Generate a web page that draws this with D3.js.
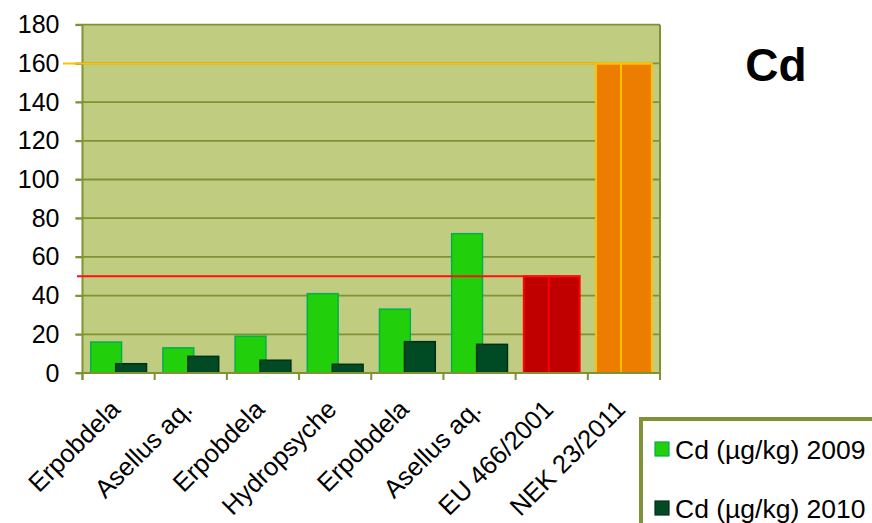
<!DOCTYPE html>
<html>
<head>
<meta charset="utf-8">
<script src="https://cdn.jsdelivr.net/npm/d3@7"></script>
<style>
  html, body { margin: 0; padding: 0; background: #fff; }
  svg { display: block; font-family: "Liberation Sans", Arial, sans-serif; }
</style>
</head>
<body>
<svg id="chart" width="872" height="523"></svg>
<script>
// Cadmium in macroinvertebrates (µg/kg) with two legal limit values
const categories = ["Erpobdela", "Asellus aq.", "Erpobdela", "Hydropsyche", "Erpobdela", "Asellus aq.", "EU 466/2001", "NEK 23/2011"];
const values2009 = [16, 13, 19, 41, 33, 72, 50, 160];
const values2010 = [4.8, 8.6, 6.6, 4.5, 16.2, 14.8, 50, 160];
const seriesNames = ["Cd (µg/kg) 2009", "Cd (µg/kg) 2010"];
const yTicks = [0, 20, 40, 60, 80, 100, 120, 140, 160, 180];
const limitEU = 50;
const limitNEK = 160;
const chartTitle = "Cd";

const svg = d3.select("#chart");
const plot = { left: 82.5, right: 660, top: 24.7, bottom: 373 };

const x = d3.scaleBand().domain(d3.range(categories.length))
  .range([plot.left, plot.right]).padding(0);
const y = d3.scaleLinear().domain([0, 180]).range([plot.bottom, plot.top]);

const olive = "#7f9236";
const bw = x.bandwidth();
const barW = bw * 0.427;
const off1 = bw * 0.114;
const off2 = bw * 0.46;

// colour scheme per bar: measured samples in green, limit values in red / orange
function fillFor(i, s) {
  if (categories[i] === "EU 466/2001") return "#c00000";
  if (categories[i] === "NEK 23/2011") return "#ed7d00";
  return s === 0 ? "#21cf0a" : "#004b23";
}
function strokeFor(i, s) {
  if (categories[i] === "EU 466/2001") return "#ff0000";
  if (categories[i] === "NEK 23/2011") return "#ffc000";
  return s === 0 ? "#00b050" : "#00301a";
}

// plot background
svg.append("rect")
  .attr("x", plot.left).attr("y", plot.top)
  .attr("width", plot.right - plot.left).attr("height", plot.bottom - plot.top)
  .attr("fill", "#c0cc7f");

// horizontal gridlines with outside tick marks
svg.append("g").selectAll("line").data(yTicks.filter(d => d > 0)).join("line")
  .attr("x1", plot.left - 7).attr("x2", plot.right)
  .attr("y1", d => y(d)).attr("y2", d => y(d))
  .attr("stroke", olive).attr("stroke-width", 1.8);

// y axis labels
const yAxis = d3.axisLeft(y).tickValues(yTicks).tickSize(7).tickPadding(16);
const gy = svg.append("g").attr("transform", `translate(${plot.left},0)`).call(yAxis);
gy.select(".domain").remove();
gy.selectAll(".tick line").attr("stroke", olive).attr("stroke-width", 1.8);
gy.selectAll("text").attr("font-size", 25).attr("fill", "#000")
  .attr("font-family", "Liberation Sans, Arial, sans-serif");

// bars
const rows = categories.map((c, i) => ({ i, v: [values2009[i], values2010[i]] }));
const gBars = svg.append("g");
[0, 1].forEach(s => {
  gBars.selectAll(".s" + s).data(rows).join("rect")
    .attr("class", "s" + s)
    .attr("x", d => x(d.i) + (s === 0 ? off1 : off2))
    .attr("y", d => y(d.v[s]))
    .attr("width", barW)
    .attr("height", d => y(0) - y(d.v[s]))
    .attr("fill", d => fillFor(d.i, s))
    .attr("stroke", d => strokeFor(d.i, s))
    .attr("stroke-width", d => d.i >= 6 ? 2 : 1.5);
});

// plot frame: left axis, right edge, bottom axis
svg.append("line").attr("x1", plot.left).attr("x2", plot.left)
  .attr("y1", plot.top).attr("y2", plot.bottom + 7)
  .attr("stroke", olive).attr("stroke-width", 2);
svg.append("line").attr("x1", plot.right).attr("x2", plot.right)
  .attr("y1", plot.top).attr("y2", plot.bottom + 7)
  .attr("stroke", olive).attr("stroke-width", 2);
svg.append("line").attr("x1", plot.left - 7).attr("x2", plot.right)
  .attr("y1", plot.bottom).attr("y2", plot.bottom)
  .attr("stroke", olive).attr("stroke-width", 2);

// category separators below the axis
svg.append("g").selectAll("line").data(d3.range(categories.length + 1)).join("line")
  .attr("x1", d => plot.left + d * bw).attr("x2", d => plot.left + d * bw)
  .attr("y1", plot.bottom).attr("y2", plot.bottom + 7)
  .attr("stroke", olive).attr("stroke-width", 2);

// limit lines
const iEU = categories.indexOf("EU 466/2001");
const iNEK = categories.indexOf("NEK 23/2011");
svg.append("line")
  .attr("x1", 77).attr("x2", x(iEU) + off2 + barW)
  .attr("y1", y(limitEU)).attr("y2", y(limitEU))
  .attr("stroke", "#ff1010").attr("stroke-width", 2);
svg.append("line")
  .attr("x1", 63).attr("x2", x(iNEK) + off2 + barW)
  .attr("y1", y(limitNEK)).attr("y2", y(limitNEK))
  .attr("stroke", "#ffc000").attr("stroke-width", 2);

// rotated category labels
svg.append("g").selectAll("text").data(categories).join("text")
  .attr("transform", (d, i) => `translate(${x(i) + bw / 2 + 3},411) rotate(-45)`)
  .attr("text-anchor", "end")
  .attr("font-size", 25.6)
  .attr("fill", "#000")
  .text(d => d);

// title
svg.append("text")
  .attr("x", 776).attr("y", 81)
  .attr("text-anchor", "middle")
  .attr("font-size", 46).attr("font-weight", "bold")
  .attr("fill", "#000")
  .text(chartTitle);

// legend
const lg = svg.append("g");
lg.append("rect")
  .attr("x", 641).attr("y", 419).attr("width", 300).attr("height", 200)
  .attr("fill", "#fff").attr("stroke", olive).attr("stroke-width", 4);
seriesNames.forEach((name, s) => {
  const yy = 442 + s * 59;
  lg.append("rect")
    .attr("x", 655).attr("y", yy).attr("width", 14).attr("height", 14)
    .attr("fill", s === 0 ? "#21cf0a" : "#004b23")
    .attr("stroke", s === 0 ? "#00b050" : "#00301a").attr("stroke-width", 1.2);
  lg.append("text")
    .attr("x", 675).attr("y", yy + 17)
    .attr("font-size", 26.5).attr("fill", "#000")
    .text(name);
});
</script>
</body>
</html>
